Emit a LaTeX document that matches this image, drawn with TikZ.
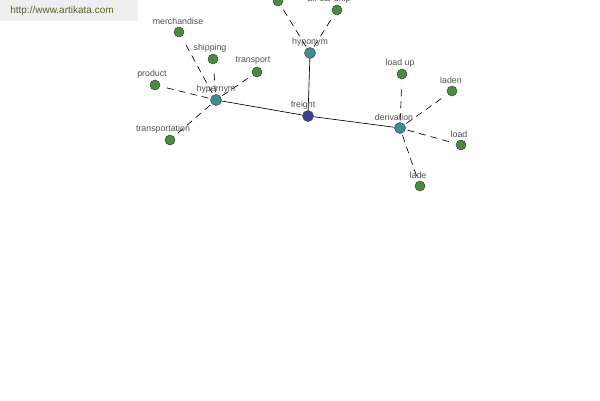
\documentclass[tikz,border=0pt]{standalone}
\usepackage{fontspec}
\setmainfont{Liberation Sans}
\usepackage{xcolor}
\definecolor{akgreen}{RGB}{74,140,62}
\definecolor{akteal}{RGB}{66,140,142}
\definecolor{akblue}{RGB}{62,62,140}
\definecolor{akgray}{RGB}{80,80,80}
\definecolor{akbar}{RGB}{238,238,238}
\definecolor{akurl}{RGB}{84,100,44}
\usepackage{tikz}
\usetikzlibrary{positioning, backgrounds}

\tikzset{
  leaf/.style={circle, fill=akgreen, draw=black!75, line width=0.5pt, inner sep=0pt, minimum size=10pt},
  hub/.style={circle, fill=akteal, draw=black!75, line width=0.5pt, inner sep=0pt, minimum size=11pt},
  root/.style={hub, fill=akblue},
  tag/.style={font=\fontsize{8.8}{9}\selectfont, text=akgray, inner sep=0pt},
  solidlink/.style={draw=black, line width=0.65pt},
  dashlink/.style={draw=black, line width=0.65pt, dash pattern=on 7pt off 5pt, shorten >=5pt, shorten <=2pt},
}

\begin{document}
\begin{tikzpicture}[x=1pt, y=-1pt]
  \useasboundingbox (0,0) rectangle (600,400);
  \clip (0,0) rectangle (600,400);

  % Site banner
  \fill[akbar] (0,0) rectangle (138,21);
  \node[font=\fontsize{10}{11}\selectfont, text=akurl, inner sep=0pt] (site) at (62,11) {http://www.artikata.com};

  % Center word
  \node[root] (freight) at (308,116) {};
  \node[tag] (tfreight) at (303,105) {freight};

  % Relation hubs
  \node[hub] (hypernym) at (216,100) {};
  \node[tag] (thypernym) at (216,89) {hypernym};
  \node[hub] (hyponym) at (310,53) {};
  \node[tag] (thyponym) at (310,42) {hyponym};
  \node[hub] (derivation) at (400,128) {};
  \node[tag] (tderivation) at (394,117) {derivation};

  % Hypernym leaves
  \node[leaf] (merchandise) at (179,32) {};
  \node[tag] (tmerchandise) at (178,21) {merchandise};
  \node[leaf] (shipping) at (213,59) {};
  \node[tag] (tshipping) at (210,48) {shipping};
  \node[leaf] (transport) at (257,72) {};
  \node[tag] (ttransport) at (253,61) {transport};
  \node[leaf] (product) at (155,85) {};
  \node[tag] (tproduct) at (152,74) {product};
  \node[leaf] (transportation) at (170,140) {};
  \node[tag] (ttransportation) at (163,129) {transportation};

  % Hyponym leaves
  \node[leaf] (hypoA) at (278,1) {};
  \node[leaf] (hypoB) at (337,10) {};
  \node[tag] (thypoB) at (329,-1) {air car ship};

  % Derivation leaves
  \node[leaf] (loadup) at (402,74) {};
  \node[tag] (tloadup) at (400,63) {load up};
  \node[leaf] (laden) at (452,91) {};
  \node[tag] (tladen) at (451,80) {laden};
  \node[leaf] (load) at (461,145) {};
  \node[tag] (tload) at (459,134) {load};
  \node[leaf] (lade) at (420,186) {};
  \node[tag] (tlade) at (418,175) {lade};

  % Links
  \begin{scope}[on background layer]
    \draw[solidlink] (freight) -- (hypernym);
    \draw[solidlink] (freight) -- (hyponym);
    \draw[solidlink] (freight) -- (derivation);
    \foreach \leafname in {merchandise, shipping, transport, product, transportation}
      \draw[dashlink] (hypernym) -- (\leafname);
    \foreach \leafname in {hypoA, hypoB}
      \draw[dashlink] (hyponym) -- (\leafname);
    \foreach \leafname in {loadup, laden, load, lade}
      \draw[dashlink] (derivation) -- (\leafname);
  \end{scope}
\end{tikzpicture}
\end{document}
